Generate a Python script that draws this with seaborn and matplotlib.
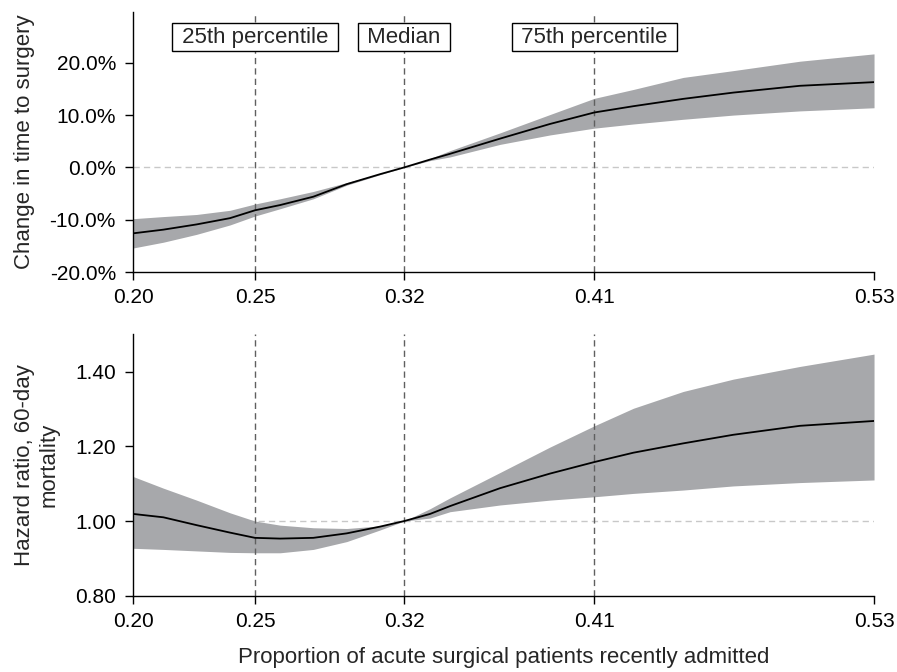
import numpy as np
import pandas as pd
import matplotlib
matplotlib.use("Agg")
import matplotlib.pyplot as plt
from matplotlib.ticker import FuncFormatter
import seaborn as sns

# proportion of acute surgical patients recently admitted
prop = [0.200, 0.2134, 0.2282, 0.2431, 0.2542, 0.2654, 0.2802, 0.2951, 0.3099,
        0.3207, 0.3322, 0.3411, 0.3634, 0.3856, 0.4054, 0.4228, 0.4450, 0.4673,
        0.4970, 0.530]

# change in time to surgery (%)
tts_mid = [-12.6, -11.9, -10.9, -9.7, -8.2, -7.2, -5.6, -3.2, -1.3,
           0.0, 1.5, 2.6, 5.5, 8.3, 10.5, 11.7, 13.1, 14.3, 15.6, 16.3]
tts_hi = [-9.8, -9.4, -9.0, -8.2, -7.0, -6.0, -4.6, -2.9, -1.2,
          0.0, 1.7, 3.2, 6.6, 10.1, 13.2, 14.9, 17.2, 18.5, 20.3, 21.7]
tts_lo = [-15.4, -14.3, -12.8, -11.0, -9.3, -7.9, -6.0, -3.4, -1.4,
          0.0, 1.3, 2.0, 4.4, 6.2, 7.5, 8.3, 9.2, 10.0, 10.8, 11.4]

# hazard ratio, 60-day mortality
hr_mid = [1.019, 1.010, 0.989, 0.969, 0.955, 0.953, 0.955, 0.967, 0.985,
          1.000, 1.019, 1.040, 1.088, 1.127, 1.158, 1.183, 1.208, 1.231, 1.255, 1.268]
hr_hi = [1.119, 1.088, 1.056, 1.022, 1.000, 0.989, 0.982, 0.980, 0.987,
         1.000, 1.033, 1.062, 1.130, 1.198, 1.255, 1.302, 1.347, 1.380, 1.414, 1.447]
hr_lo = [0.927, 0.924, 0.920, 0.916, 0.915, 0.915, 0.924, 0.945, 0.976,
         1.000, 1.008, 1.025, 1.043, 1.056, 1.065, 1.074, 1.083, 1.094, 1.103, 1.110]

# percentile positions and their labels
pct_pos = [0.200, 0.2542, 0.3207, 0.4054, 0.530]
pct_labels = ["0.20", "0.25", "0.32", "0.41", "0.53"]
ref_pos = [0.2542, 0.3207, 0.4054]
ref_names = ["25th percentile", "Median", "75th percentile"]

df = pd.DataFrame({"prop": prop, "tts": tts_mid, "hr": hr_mid})

sns.set_style("ticks")
plt.rcParams["font.family"] = ["Liberation Sans", "DejaVu Sans"]

fig = plt.figure(figsize=(8.97, 6.72), dpi=100)
ax1 = fig.add_axes([0.1486, 0.5952, 0.8258, 0.3869])
ax2 = fig.add_axes([0.1486, 0.1135, 0.8258, 0.3890])

band_col = "#a7a8ab"
vline_col = "#5f5f5f"
dash = (0, (4.5, 3))

# top panel
ax1.fill_between(prop, tts_lo, tts_hi, color=band_col, linewidth=0, zorder=1)
ax1.axhline(0, color="#c8c8c8", lw=1, ls=dash, zorder=0)
sns.lineplot(data=df, x="prop", y="tts", ax=ax1, color="black", lw=1.3, zorder=3)
for p in ref_pos:
    ax1.axvline(p, color=vline_col, lw=1, ls=dash, zorder=2)
for p, name in zip(ref_pos, ref_names):
    ax1.text(p, 24.9, " " + name + " ", ha="center", va="center", fontsize=16,
             bbox=dict(boxstyle="square,pad=0.15", fc="white", ec="black", lw=1))
ax1.set_ylim(-20, 29.7)
ax1.set_yticks([-20, -10, 0, 10, 20])
ax1.yaxis.set_major_formatter(FuncFormatter(lambda v, _: f"{v:.1f}%"))
ax1.set_ylabel("Change in time to surgery", fontsize=16)
ax1.set_xlabel("")

# bottom panel
ax2.fill_between(prop, hr_lo, hr_hi, color=band_col, linewidth=0, zorder=1)
ax2.axhline(1.0, color="#c8c8c8", lw=1, ls=dash, zorder=0)
sns.lineplot(data=df, x="prop", y="hr", ax=ax2, color="black", lw=1.3, zorder=3)
for p in ref_pos:
    ax2.axvline(p, color=vline_col, lw=1, ls=dash, zorder=2)
ax2.set_ylim(0.80, 1.50)
ax2.set_yticks([0.80, 1.00, 1.20, 1.40])
ax2.yaxis.set_major_formatter(FuncFormatter(lambda v, _: f"{v:.2f}"))
ax2.set_ylabel("Hazard ratio, 60-day\nmortality", fontsize=16)
ax2.set_xlabel("Proportion of acute surgical patients recently admitted", fontsize=16)
ax2.xaxis.set_label_coords(0.5, -0.195)

for ax in (ax1, ax2):
    ax.set_xlim(0.200, 0.530)
    ax.set_xticks(pct_pos)
    ax.set_xticklabels(pct_labels)
    ax.tick_params(direction="out", length=5.5, width=1, colors="black",
                   labelsize=15)
    ax.tick_params(axis="x", pad=6)
    ax.tick_params(axis="y", pad=7)
    sns.despine(ax=ax)
    for s in ("left", "bottom"):
        ax.spines[s].set_color("black")
        ax.spines[s].set_linewidth(1)

ax1.yaxis.set_label_coords(-0.133, 0.5)
ax2.yaxis.set_label_coords(-0.10, 0.5)

fig.savefig("out.png", dpi=100)
